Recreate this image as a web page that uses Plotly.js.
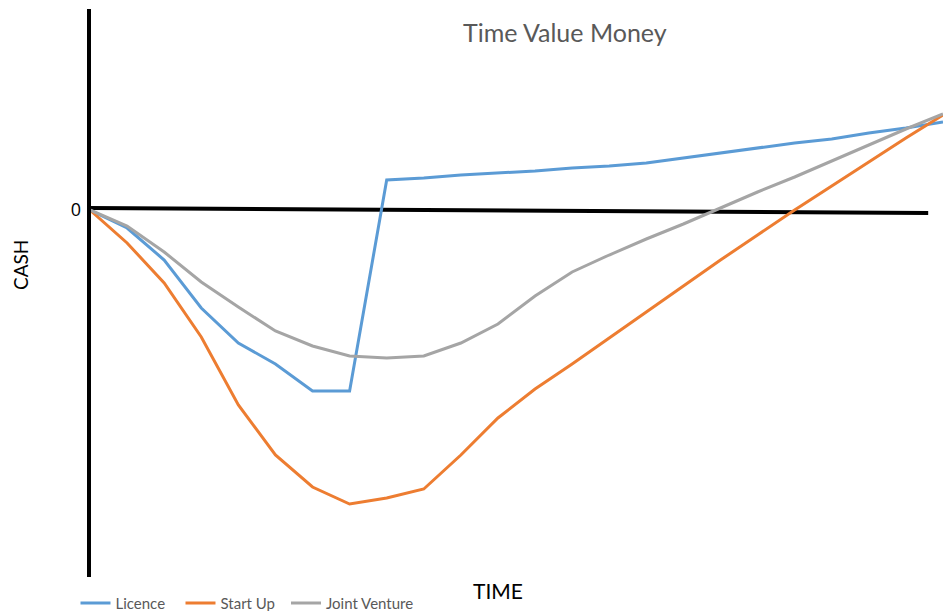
<!DOCTYPE html>
<html>
<head>
<meta charset="utf-8">
<script src="https://cdn.plot.ly/plotly-3.0.1.min.js"></script>
<style>html,body{margin:0;padding:0;background:#fff;}#chart{width:945px;height:611px;}</style>
</head>
<body>
<div id="chart"></div>
<script>
// Time periods (x index)
var periods = [0,1,2,3,4,5,6,7,8,9,10,11,12,13,14,15,16,17,18,19,20,21,22,23];
// Cash values (arbitrary units, 0 = break-even)
var licence =      [0,-18,-50,-98,-133,-154,-181,-181,30,32,35,37,39,42,44,47,52,57,62,67,71,77,82,88];
var startUp =      [0,-33,-73,-127,-195,-245,-277,-294,-288,-279,-245,-208,-179,-154,-128,-102,-76,-50,-25,0,24,48,72,95];
var jointVenture = [0,-16,-42,-72,-97,-121,-136,-146,-148,-146,-133,-114,-86,-62,-45,-29,-14,2,18,33,49,65,81,96];
var seriesNames = ["Licence","Start Up","Joint Venture"];
var seriesColors = ["#5B9BD5","#ED7D31","#A5A5A5"];
var seriesLegends = ["legend","legend","legend2"];
var yTickVals = [0];
var yTickText = ["0"];

var allSeries = [licence, startUp, jointVenture];
var traces = allSeries.map(function(s,i){
  return {x: periods, y: s, type: 'scatter', mode: 'lines', name: seriesNames[i], legend: seriesLegends[i],
          line: {color: seriesColors[i], width: 3}, hoverinfo: 'x+y'};
});

var legendFont = {family: 'Lato, "Open Sans", sans-serif', size: 15, color: '#595959'};
var layout = {
  width: 945, height: 611,
  margin: {l: 90, r: 2, t: 9, b: 34, autoexpand: false},
  paper_bgcolor: '#fff', plot_bgcolor: '#fff',
  showlegend: true,
  legend: {orientation: 'h', x: -0.017, xanchor: 'left', y: -0.017, yanchor: 'top',
           font: legendFont, itemwidth: 30, entrywidth: 60, entrywidthmode: 'pixels', tracegroupgap: 0},
  legend2: {orientation: 'h', x: (286-90)/853, xanchor: 'left', y: -0.017, yanchor: 'top',
           font: legendFont, itemwidth: 30, tracegroupgap: 0},
  xaxis: {range: [0, 23], showgrid: false, zeroline: false, showticklabels: false, ticks: '', showline: false, fixedrange: true},
  yaxis: {range: [-367, 201], showgrid: false, zeroline: false, tickvals: yTickVals, ticktext: yTickText,
          ticks: '', ticklen: 0, ticklabelstandoff: 8,
          tickfont: {family: '"Open Sans", sans-serif', size: 18, color: '#000'}, showline: false, fixedrange: true},
  shapes: [
    {type: 'line', xref: 'x', yref: 'y', x0: 0, y0: 2, x1: 22.6, y1: -3, line: {color: '#000', width: 4}, layer: 'below'},
    {type: 'line', xref: 'paper', yref: 'paper', x0: -1/853, y0: 0, x1: -1/853, y1: 1, line: {color: '#000', width: 4}}
  ],
  annotations: [
    {text: 'Time Value Money', xref: 'paper', yref: 'paper', x: (565-90)/853, y: 1 + (9-32)/568, xanchor: 'center', yanchor: 'middle', showarrow: false,
     font: {family: 'Lato, "Open Sans", sans-serif', size: 25, color: '#595959'}},
    {text: 'CASH', xref: 'paper', yref: 'paper', x: (20-90)/853, y: 1 - (265-9)/568, xanchor: 'center', yanchor: 'middle', showarrow: false, textangle: -90,
     font: {family: 'Lato, "Open Sans", sans-serif', size: 19, color: '#000'}},
    {text: 'TIME', xref: 'paper', yref: 'paper', x: (498-90)/853, y: -(590-577)/568, xanchor: 'center', yanchor: 'middle', showarrow: false,
     font: {family: 'Lato, "Open Sans", sans-serif', size: 21, color: '#000'}}
  ]
};
Plotly.newPlot('chart', traces, layout, {displayModeBar: false, staticPlot: true});
</script>
</body>
</html>
